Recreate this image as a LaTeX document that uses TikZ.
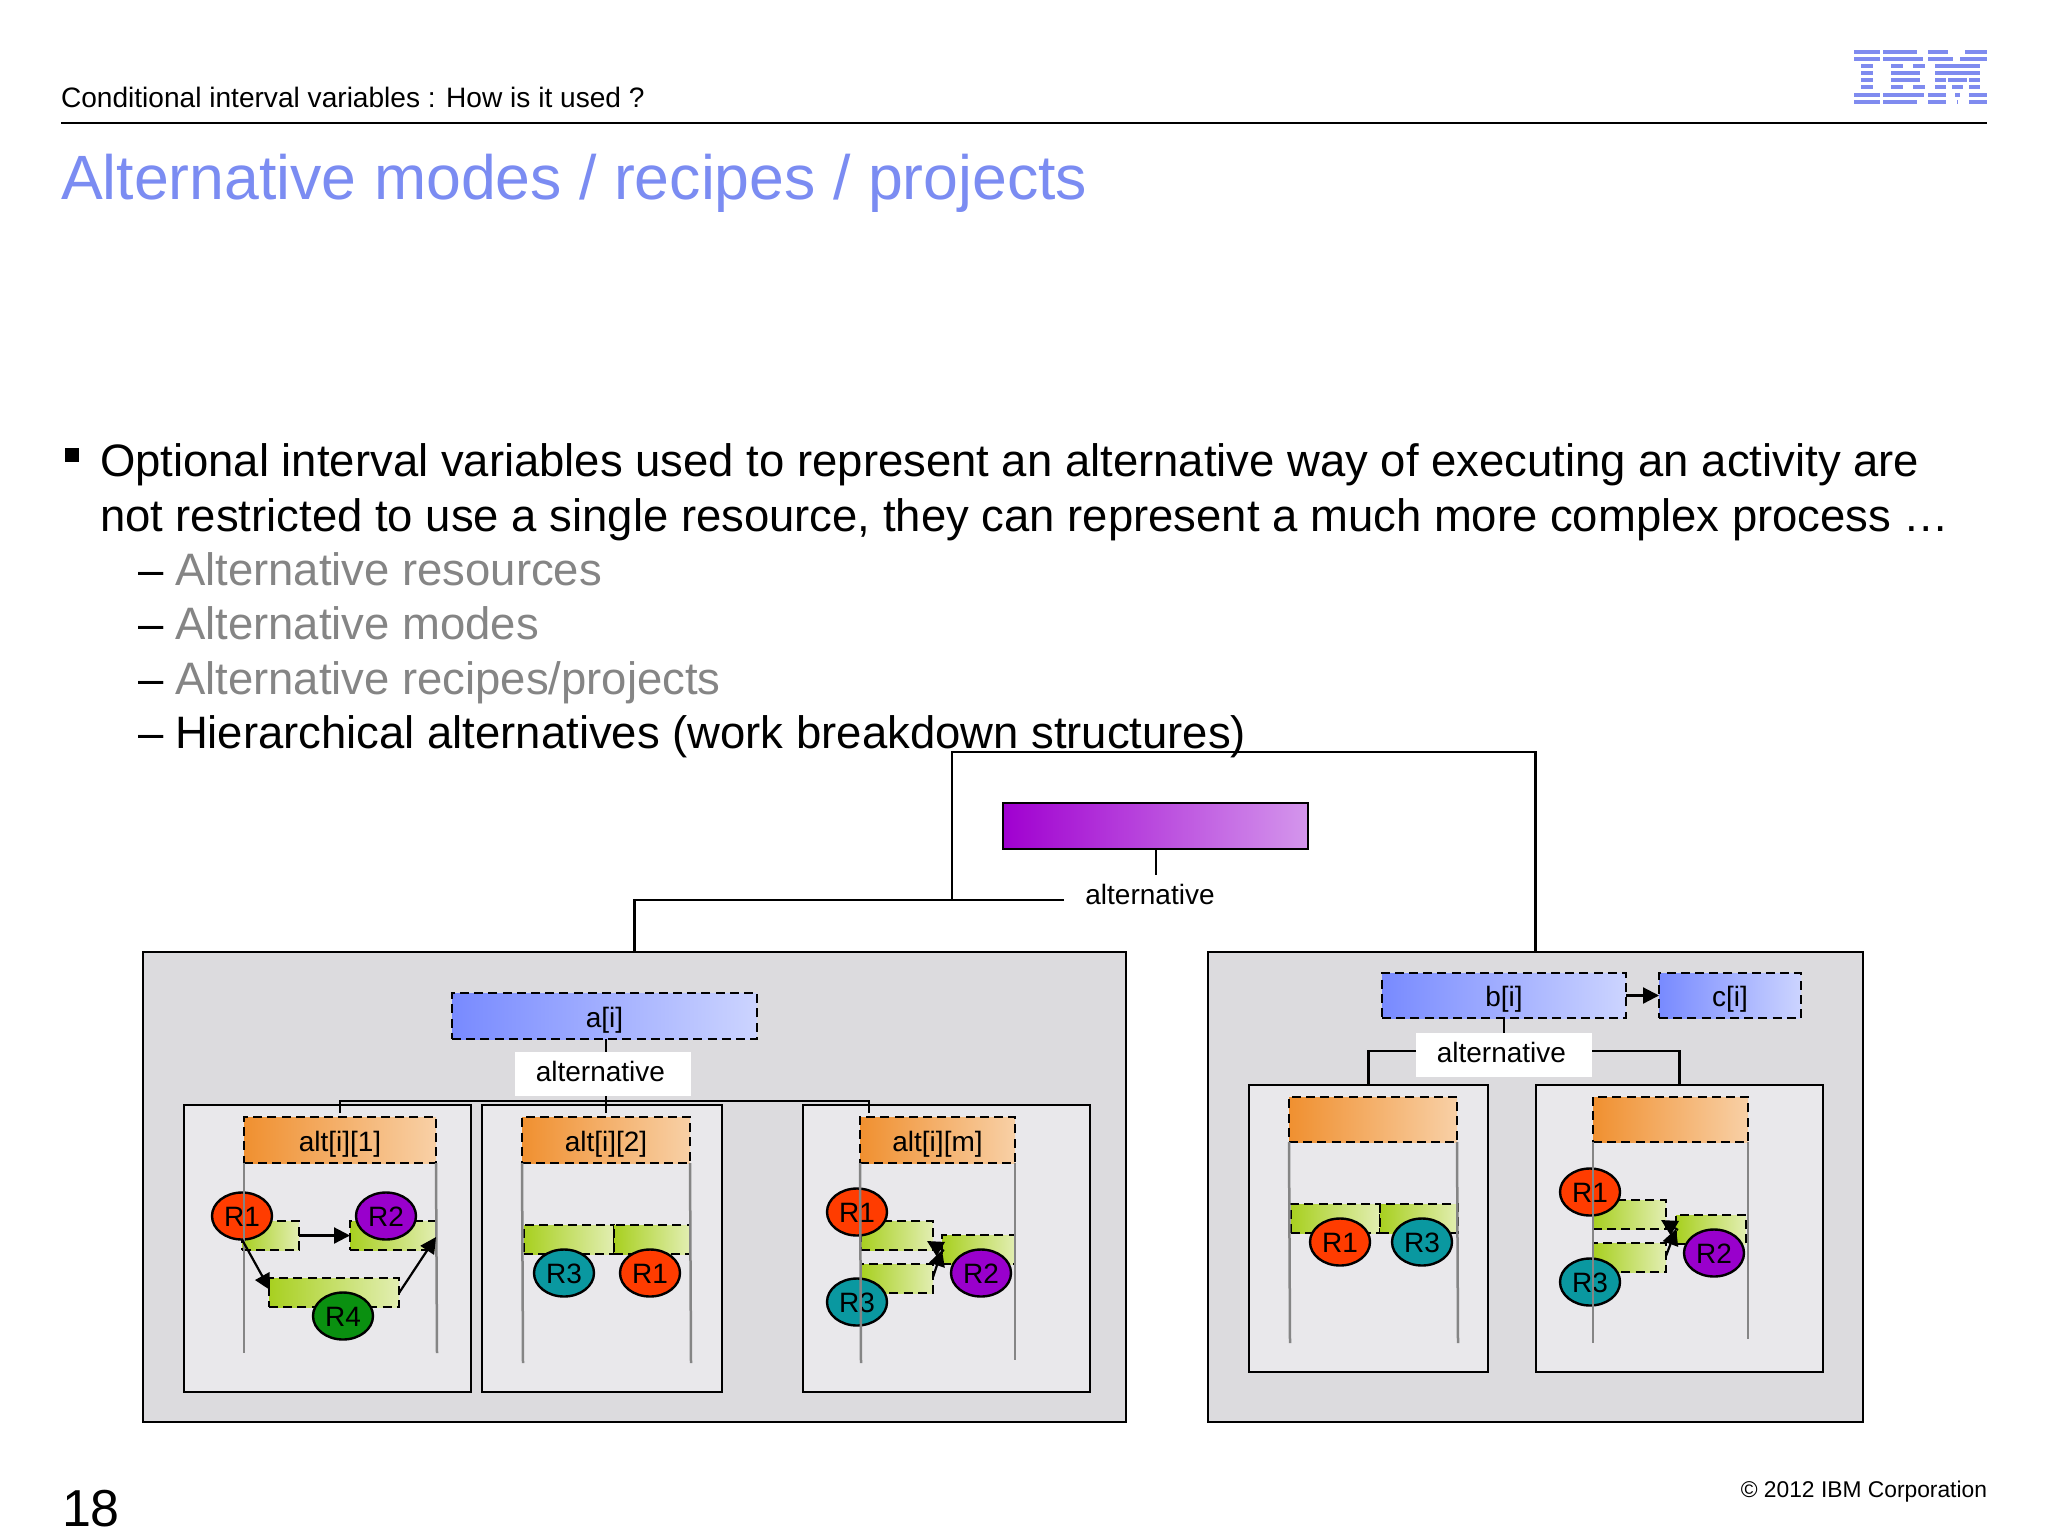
\documentclass[tikz,border=0pt]{standalone}
\usepackage{fontspec}
\setmainfont{Liberation Sans}
\usetikzlibrary{arrows.meta,shapes.geometric,calc}
\definecolor{titleblue}{HTML}{7B8CF2}
\definecolor{greytxt}{HTML}{858585}
\definecolor{ibmblue}{HTML}{7F8BEF}
\definecolor{outerfill}{HTML}{DCDBDE}
\definecolor{innerfill}{HTML}{E9E8EB}
\definecolor{lifegrey}{HTML}{858585}
\definecolor{rone}{HTML}{FF3C00}
\definecolor{rtwo}{HTML}{9900CC}
\definecolor{rthree}{HTML}{0A98A0}
\definecolor{rfour}{HTML}{0A9010}
\definecolor{purpA}{RGB}{160,0,208}
\definecolor{purpB}{RGB}{212,150,236}
\definecolor{blueA}{RGB}{120,138,255}
\definecolor{blueB}{RGB}{204,212,255}
\definecolor{orangeA}{RGB}{240,144,48}
\definecolor{orangeB}{RGB}{248,208,166}
\definecolor{greenA}{RGB}{168,208,32}
\definecolor{greenB}{RGB}{226,238,178}
\newcommand{\mybox}[6]{%
  \pgfmathsetmacro{\mybw}{(#5)-(#3)}%
  \pgfmathsetmacro{\mybh}{(#6)-(#4)}%
  \node[#1,minimum width=\mybw*0.5pt,minimum height=\mybh*0.5pt] (#2) at ({((#3)+(#5))/2},{((#4)+(#6))/2})}
\newcommand{\lowtext}[1]{\raisebox{-2pt}[\height][\depth]{#1}}
\newcommand{\restext}[1]{\raisebox{-0.6pt}[\height][\depth]{#1}}
\newcommand{\labeltext}{\raisebox{1.25pt}[\height][\depth]{alternative}\kern2.6pt}
\tikzset{
  x=0.5pt,y=-0.5pt,
  every node/.style={inner sep=0pt,outer sep=0pt,text=black},
  rawbox/.style={rectangle,draw=black,line width=1.25pt},
  outerbox/.style={rawbox,fill=outerfill},
  innerbox/.style={rawbox,fill=innerfill},
  dashbox/.style={rectangle,draw=black,line width=1.2pt,dash pattern=on 4.5pt off 2.6pt,font=\fontsize{14}{16}\selectfont},
  purplebar/.style={rawbox,left color=purpA,right color=purpB,font=\fontsize{14}{16}\selectfont},
  bluebar/.style={dashbox,left color=blueA,right color=blueB},
  orangebar/.style={dashbox,left color=orangeA,right color=orangeB},
  greenbar/.style={dashbox,left color=greenA,right color=greenB},
  whitelabel/.style={rectangle,fill=white,font=\fontsize{14}{16}\selectfont},
  res/.style={ellipse,draw=black,line width=1.2pt,minimum width=30pt,minimum height=23.5pt,font=\fontsize{14}{16}\selectfont},
  conn/.style={draw=black,line width=1.05pt},
  life/.style={draw=lifegrey,line width=1.25pt},
  arr/.style={draw=black,line width=1.1pt,-{Triangle[length=8pt,width=8pt]}},
  txt/.style={anchor=base west,inner sep=0pt},
  bodyt/.style={txt,font=\fontsize{22.73}{27}\selectfont},
}
\begin{document}
\begin{tikzpicture}
\useasboundingbox (0,0) rectangle (2048,1536);
\fill[white] (0,0) rectangle (2048,1536);
% header
\node[txt,font=\fontsize{14.05}{17}\selectfont] (hdr) at (61,107) {Conditional interval variables : How is it used ?};
\coordinate (ruleL) at (61,123);
\coordinate (ruleR) at (1987,123);
\draw[black,line width=1.1pt] (ruleL) -- (ruleR);
\node[txt,text=titleblue,font=\fontsize{31.3}{38}\selectfont] (title) at (61,199) {Alternative modes / recipes / projects};
% IBM logo
\foreach \a/\b/\s in {222/300/0,222/300/1,244/278/2,244/278/3,244/278/4,244/278/5,222/300/6,222/300/7,
 310/410/0,310/430/1,332/368/2,398/434/2,332/420/3,332/420/4,332/368/5,398/434/5,310/432/6,310/412/7,
 444/505/0,555/620/0,444/520/1,540/620/1,466/600/2,466/600/3,466/498/4,505/560/4,568/600/4,466/498/5,515/550/5,568/600/5,
 444/498/6,525/540/6,568/620/6,444/498/7,530/535/7,568/620/7}
  \fill[ibmblue] ({1780+\a/3},{30+(59+21.5*\s)/3}) rectangle ++({(\b-\a)/3},{12/3});
% body
\fill[black] (65,448) rectangle (79,462);
\node[bodyt] (l1) at (100,476.5) {Optional interval variables used to represent an alternative way of executing an activity are};
\node[bodyt] (l2) at (100,531) {not restricted to use a single resource, they can represent a much more complex process …};
\node[bodyt] (d3) at (138,585) {–};
\node[bodyt,text=greytxt] (l3) at (175,585) {Alternative resources};
\node[bodyt] (d4) at (138,639.5) {–};
\node[bodyt,text=greytxt] (l4) at (175,639.5) {Alternative modes};
\node[bodyt] (d5) at (138,694) {–};
\node[bodyt,text=greytxt] (l5) at (175,694) {Alternative recipes/projects};
\node[bodyt] (d6) at (138,748.5) {–};
\node[bodyt] (l6) at (175,748.5) {Hierarchical alternatives (work breakdown structures)};
% top of the diagram
\mybox{purplebar}{top}{1003}{803}{1308}{849} {};
\node[font=\fontsize{14}{16}\selectfont,anchor=base] (topalt) at (1150,904) {alternative};
\coordinate (stemEnd) at (1156,875);
\draw[conn] (top.south -| stemEnd) -- (stemEnd);
% outer boxes
\mybox{outerbox}{outerL}{143}{952}{1126}{1422} {};
\mybox{outerbox}{outerR}{1208}{952}{1863}{1422} {};
\coordinate (lineEnd) at (1064,900);
\coordinate (junction) at (952,900);
\coordinate (topLine) at (952,752);
\draw[conn] (lineEnd) -| (outerL.north);
\draw[conn] (junction) -- (topLine) -| (outerR.north);
% left part
\mybox{innerbox}{subA}{184}{1105}{471}{1392} {};
\mybox{innerbox}{subB}{482}{1105}{722}{1392} {};
\mybox{innerbox}{subC}{803}{1105}{1090}{1392} {};
\mybox{bluebar}{ai}{452}{993}{757}{1039} {\lowtext{a[i]}};
\mybox{whitelabel}{altA}{515}{1052}{691}{1096} {\labeltext};
\coordinate (busL) at (340,1101);
\coordinate (busM) at (606,1101);
\coordinate (busR) at (869,1101);
\coordinate (dropL) at (340,1113);
\coordinate (dropM) at (606,1113);
\coordinate (dropR) at (869,1113);
\draw[conn] (ai.south -| busM) -- (altA.north -| busM);
\draw[conn] (altA.south -| busM) -- (dropM);
\draw[conn] (dropL) -- (busL) -- (busR) -- (dropR);
% A
\mybox{orangebar}{altOne}{244}{1117}{436}{1163} {\lowtext{alt[i][1]}};
\mybox{greenbar}{ga}{242}{1221}{299}{1250} {};
\mybox{greenbar}{gb}{350}{1221}{436}{1250} {};
\mybox{greenbar}{gc}{269}{1278}{399}{1307} {};
\node[res,fill=rone] (ra1) at (242,1216) {\restext{R1}};
\node[res,fill=rtwo] (ra2) at (386,1216) {\restext{R2}};
\node[res,fill=rfour] (ra4) at (343,1316) {\restext{R4}};
\coordinate (la1) at (244,1353);
\coordinate (la2) at (437,1353);
\draw[life] (altOne.south west) -- (la1);
\draw[life] (altOne.south east) -- (la2);
\draw[arr] (ga.east) -- (gb.west);
\coordinate (aTipR) at (436,1237);
\coordinate (aFromR) at (399,1293);
\coordinate (aTipL) at (270,1290);
\draw[arr] (ra1.south) -- (aTipL);
\draw[arr] (aFromR) -- (aTipR);
% B
\mybox{orangebar}{altTwo}{522}{1117}{690}{1163} {\lowtext{alt[i][2]}};
\mybox{greenbar}{gd}{524}{1225}{614}{1254} {};
\mybox{greenbar}{ge}{614}{1225}{690}{1254} {};
\node[res,fill=rthree] (rb3) at (564,1273) {\restext{R3}};
\node[res,fill=rone] (rb1) at (650,1273) {\restext{R1}};
\coordinate (lb1) at (523,1363);
\coordinate (lb2) at (691,1363);
\draw[life] (altTwo.south west) -- (lb1);
\draw[life] (altTwo.south east) -- (lb2);
% C
\mybox{orangebar}{altM}{860}{1117}{1015}{1163} {\lowtext{alt[i][m]}};
\mybox{greenbar}{gf}{861}{1221}{933}{1250} {};
\mybox{greenbar}{gg}{861}{1264}{933}{1293} {};
\mybox{greenbar}{gh}{942}{1235}{1015}{1264} {};
\node[res,fill=rone] (rc1) at (857,1212) {\restext{R1}};
\node[res,fill=rthree] (rc3) at (857,1302) {\restext{R3}};
\node[res,fill=rtwo] (rc2) at (981,1273) {\restext{R2}};
\coordinate (lc1) at (861,1363);
\coordinate (lc2) at (1015,1360);
\draw[life] (altM.south west) -- (lc1);
\draw[life] (altM.south east) -- (lc2);
\coordinate (cJoin) at (944,1251);
\coordinate (cTipUp) at (927,1241);
\coordinate (cFromLow) at (933,1277);
\coordinate (cTipLow) at (942,1250);
\draw[arr] (cJoin) -- (cTipUp);
\draw[arr] (cFromLow) -- (cTipLow);
% right part
\mybox{innerbox}{subD}{1249}{1085}{1488}{1372} {};
\mybox{innerbox}{subE}{1536}{1085}{1823}{1372} {};
\mybox{bluebar}{bi}{1382}{973}{1626}{1018} {\lowtext{b[i]}};
\mybox{bluebar}{ci}{1659}{973}{1801}{1018} {\lowtext{c[i]}};
\draw[arr] (bi.east) -- (ci.west);
\mybox{whitelabel}{altB}{1416}{1033}{1592}{1077} {\labeltext};
\coordinate (bStem) at (1504,1033);
\draw[conn] (bi.south -| bStem) -- (bStem);
\coordinate (bLeftY) at (1416,1051);
\coordinate (bRightY) at (1592,1051);
\draw[conn] (bLeftY) -| (subD.north);
\draw[conn] (bRightY) -| (subE.north);
% D
\mybox{orangebar}{orD}{1289}{1097}{1457}{1142} {};
\mybox{greenbar}{gi}{1291}{1204}{1380}{1233} {};
\mybox{greenbar}{gj}{1380}{1204}{1458}{1233} {};
\node[res,fill=rone] (rd1) at (1340,1242) {\restext{R1}};
\node[res,fill=rthree] (rd3) at (1422,1242) {\restext{R3}};
\coordinate (ld1) at (1290,1343);
\coordinate (ld2) at (1458,1343);
\draw[life] (orD.south west) -- (ld1);
\draw[life] (orD.south east) -- (ld2);
% E
\mybox{orangebar}{orE}{1593}{1097}{1748}{1142} {};
\mybox{greenbar}{gk}{1593}{1200}{1666}{1229} {};
\mybox{greenbar}{gl}{1593}{1243}{1666}{1272} {};
\mybox{greenbar}{gm}{1676}{1215}{1746}{1244} {};
\node[res,fill=rone] (re1) at (1590,1192) {\restext{R1}};
\node[res,fill=rthree] (re3) at (1590,1282) {\restext{R3}};
\node[res,fill=rtwo] (re2) at (1714,1253) {\restext{R2}};
\coordinate (le1) at (1593,1343);
\coordinate (le2) at (1748,1339);
\draw[life] (orE.south west) -- (le1);
\draw[life] (orE.south east) -- (le2);
\coordinate (eJoin) at (1678,1230);
\coordinate (eTipUp) at (1661,1220);
\coordinate (eFromLow) at (1666,1256);
\coordinate (eTipLow) at (1676,1229);
\draw[arr] (eJoin) -- (eTipUp);
\draw[arr] (eFromLow) -- (eTipLow);
% footer
\node[txt,font=\fontsize{26}{32}\selectfont] (pg) at (62,1526) {18};
\node[anchor=base east,font=\fontsize{11.4}{14}\selectfont] (copy) at (1987,1497) {© 2012 IBM Corporation};
\end{tikzpicture}
\end{document}
